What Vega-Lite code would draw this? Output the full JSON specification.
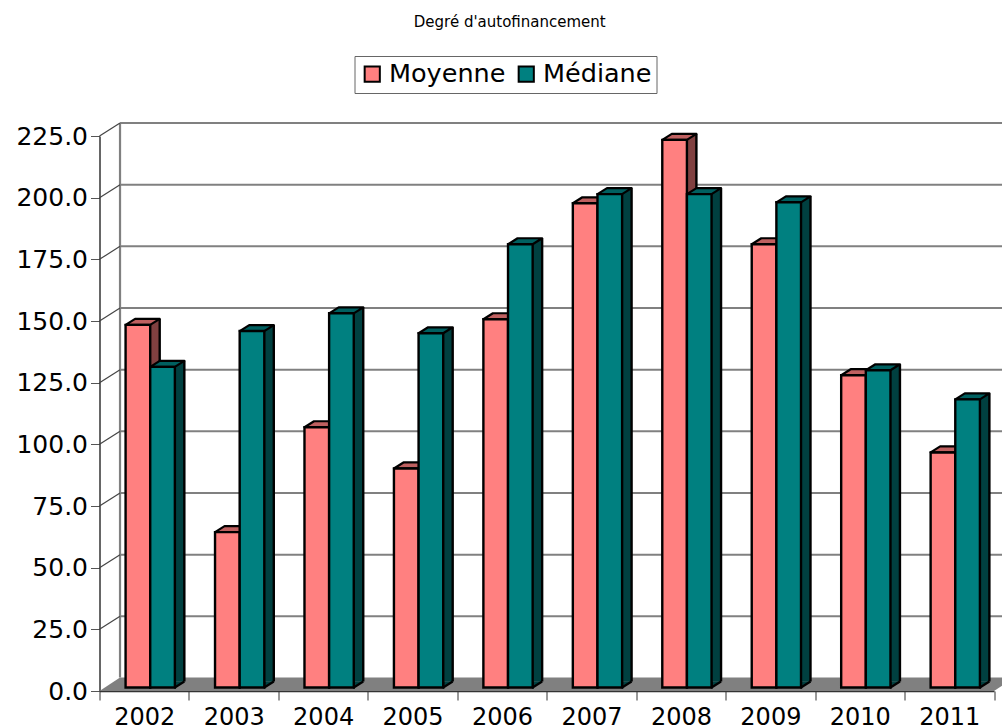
{"$schema":"https://vega.github.io/schema/vega-lite/v6.json","autosize":{"type":"none"},"padding":{"left":99.5,"top":136,"right":8,"bottom":35},"width":894.5,"height":555,"background":"white","title":{"text":"Degré d'autofinancement","font":"DejaVu Sans","fontSize":15,"fontWeight":"normal","color":"#000","anchor":"middle","dx":-37,"offset":26},"config":{"view":{"stroke":null},"axis":{"grid":false,"title":null}},"datasets":{"bars":[{"year":"2002","series":"Moyenne","value":147},{"year":"2003","series":"Moyenne","value":63},{"year":"2004","series":"Moyenne","value":105.5},{"year":"2005","series":"Moyenne","value":88.8},{"year":"2006","series":"Moyenne","value":149.3},{"year":"2007","series":"Moyenne","value":196.3},{"year":"2008","series":"Moyenne","value":222},{"year":"2009","series":"Moyenne","value":179.7},{"year":"2010","series":"Moyenne","value":126.6},{"year":"2011","series":"Moyenne","value":95.3},{"year":"2002","series":"Médiane","value":130},{"year":"2003","series":"Médiane","value":144.5},{"year":"2004","series":"Médiane","value":151.7},{"year":"2005","series":"Médiane","value":143.6},{"year":"2006","series":"Médiane","value":179.7},{"year":"2007","series":"Médiane","value":200},{"year":"2008","series":"Médiane","value":200},{"year":"2009","series":"Médiane","value":196.7},{"year":"2010","series":"Médiane","value":128.6},{"year":"2011","series":"Médiane","value":116.8}],"base":[{"year":"2002","tick":0}],"grid":[{"year":"2002","tick":25},{"year":"2002","tick":50},{"year":"2002","tick":75},{"year":"2002","tick":100},{"year":"2002","tick":125},{"year":"2002","tick":150},{"year":"2002","tick":175},{"year":"2002","tick":200},{"year":"2002","tick":225}]},"layer":[{"data":{"name":"base"},"mark":{"type":"point","filled":true,"opacity":1,"size":400,"color":"#808080","strokeWidth":0,"shape":"M-4.47,0L-2.42,-1.35L87.03,-1.35L84.98,0Z"},"encoding":{"x":{"field":"year","type":"nominal","scale":{"domain":["2002","2003","2004","2005","2006","2007","2008","2009","2010","2011"],"paddingInner":0,"paddingOuter":0},"axis":{"labelAngle":0,"tickBand":"extent","tickSize":9,"tickColor":"#333","domainColor":"#333","domainWidth":1.5,"labelFont":"DejaVu Sans","labelFontSize":24,"labelColor":"#000","labelPadding":5}},"y":{"field":"tick","type":"quantitative","scale":{"domain":[0,225],"nice":false},"axis":{"values":[0,25,50,75,100,125,150,175,200,225],"format":".1f","tickSize":9,"tickColor":"#555","domainColor":"#333","domainWidth":1.5,"labelFont":"DejaVu Sans","labelFontSize":25,"labelColor":"#000","labelPadding":3}}}},{"data":{"name":"base"},"mark":{"type":"point","filled":false,"opacity":1,"size":400,"stroke":"#808080","strokeWidth":2.2,"shape":"M-2.42,-1.35L-2.42,-56.8"},"encoding":{"x":{"field":"year","type":"nominal","axis":null,"scale":{"domain":["2002","2003","2004","2005","2006","2007","2008","2009","2010","2011"],"paddingInner":0,"paddingOuter":0}},"y":{"field":"tick","type":"quantitative","axis":null,"scale":{"domain":[0,225],"nice":false}}}},{"data":{"name":"grid"},"mark":{"type":"point","filled":false,"opacity":1,"size":400,"stroke":"#808080","strokeWidth":2,"shape":"M-2.42,-1.3L92,-1.3"},"encoding":{"x":{"field":"year","type":"nominal","axis":null,"scale":{"domain":["2002","2003","2004","2005","2006","2007","2008","2009","2010","2011"],"paddingInner":0,"paddingOuter":0}},"y":{"field":"tick","type":"quantitative","axis":null,"scale":{"domain":[0,225],"nice":false}}}},{"data":{"name":"grid"},"mark":{"type":"point","filled":false,"opacity":1,"size":400,"stroke":"#444","strokeWidth":1.2,"shape":"M-4.47,0L-2.42,-1.3"},"encoding":{"x":{"field":"year","type":"nominal","axis":null,"scale":{"domain":["2002","2003","2004","2005","2006","2007","2008","2009","2010","2011"],"paddingInner":0,"paddingOuter":0}},"y":{"field":"tick","type":"quantitative","axis":null,"scale":{"domain":[0,225],"nice":false}}}},{"data":{"name":"bars"},"mark":{"type":"bar","width":9.5},"encoding":{"x":{"field":"year","type":"nominal","axis":null,"scale":{"domain":["2002","2003","2004","2005","2006","2007","2008","2009","2010","2011"],"range":[23.05,917.55],"paddingInner":0,"paddingOuter":0}},"y":{"field":"value","type":"quantitative","stack":null,"axis":null,"scale":{"domain":[0,225],"nice":false,"range":[545.5,-9.5]}},"xOffset":{"field":"series","scale":{"domain":["Moyenne","Médiane"],"paddingInner":0,"paddingOuter":0.815}},"fill":{"field":"series","scale":{"domain":["Moyenne","Médiane"],"range":["#804040","#004040"]},"legend":null}}},{"data":{"name":"bars"},"mark":{"type":"bar","width":2.4,"color":"#000"},"encoding":{"x":{"field":"year","type":"nominal","axis":null,"scale":{"domain":["2002","2003","2004","2005","2006","2007","2008","2009","2010","2011"],"range":[27.8,922.3],"paddingInner":0,"paddingOuter":0}},"y":{"field":"value","type":"quantitative","stack":null,"axis":null,"scale":{"domain":[0,225],"nice":false,"range":[545.5,-9.5]}},"xOffset":{"field":"series","scale":{"domain":["Moyenne","Médiane"],"paddingInner":0,"paddingOuter":0.815}}}},{"data":{"name":"bars"},"mark":{"type":"point","filled":true,"opacity":1,"size":400,"stroke":"#000","strokeWidth":2.2,"strokeJoin":"round","shape":"M2.18,-0.6L1.23,0L1.23,-0.6"},"encoding":{"x":{"field":"year","type":"nominal","axis":null,"scale":{"domain":["2002","2003","2004","2005","2006","2007","2008","2009","2010","2011"],"range":[6,900.5],"paddingInner":0,"paddingOuter":0}},"y":{"datum":0,"type":"quantitative","axis":null,"scale":{"domain":[0,225],"nice":false,"range":[551.5,-3.5]}},"xOffset":{"field":"series","scale":{"type":"band","domain":["Moyenne","Médiane"],"paddingInner":0,"paddingOuter":0.815}},"fill":{"field":"series","scale":{"domain":["Moyenne","Médiane"],"range":["#804040","#004040"]},"legend":null}}},{"data":{"name":"bars"},"mark":{"type":"point","filled":true,"opacity":1,"size":400,"stroke":"#000","strokeWidth":2.2,"strokeJoin":"round","shape":"M-1.23,0L-0.28,-0.6L2.18,-0.6L1.23,0Z"},"encoding":{"x":{"field":"year","type":"nominal","axis":null,"scale":{"domain":["2002","2003","2004","2005","2006","2007","2008","2009","2010","2011"],"range":[6,900.5],"paddingInner":0,"paddingOuter":0}},"y":{"field":"value","type":"quantitative","stack":null,"axis":null,"scale":{"domain":[0,225],"nice":false,"range":[551.5,-3.5]}},"xOffset":{"field":"series","scale":{"type":"band","domain":["Moyenne","Médiane"],"paddingInner":0,"paddingOuter":0.815}},"fill":{"field":"series","scale":{"domain":["Moyenne","Médiane"],"range":["#bf6060","#006060"]},"legend":null}}},{"data":{"name":"bars"},"mark":{"type":"bar","stroke":"#000","strokeWidth":2.4},"encoding":{"x":{"field":"year","type":"nominal","axis":null,"scale":{"domain":["2002","2003","2004","2005","2006","2007","2008","2009","2010","2011"],"range":[6,900.5],"paddingInner":0,"paddingOuter":0}},"y":{"field":"value","type":"quantitative","stack":null,"axis":null,"scale":{"domain":[0,225],"nice":false,"range":[551.5,-3.5]}},"xOffset":{"field":"series","scale":{"domain":["Moyenne","Médiane"],"paddingInner":0,"paddingOuter":0.815}},"fill":{"field":"series","scale":{"domain":["Moyenne","Médiane"],"range":["#ff8080","#008080"]},"legend":{"title":null,"orient":"none","legendX":255,"legendY":-80,"direction":"horizontal","columns":2,"symbolType":"square","symbolSize":230,"symbolStrokeColor":"#000","symbolStrokeWidth":2,"labelFont":"DejaVu Sans","labelFontSize":25.5,"labelColor":"#000","fillColor":"#fff","strokeColor":"#666","padding":5,"columnPadding":8,"labelOffset":4}}}}],"resolve":{"scale":{"x":"independent","y":"independent","xOffset":"independent","fill":"independent"},"axis":{"x":"independent","y":"independent"},"legend":{"fill":"independent"}}}
